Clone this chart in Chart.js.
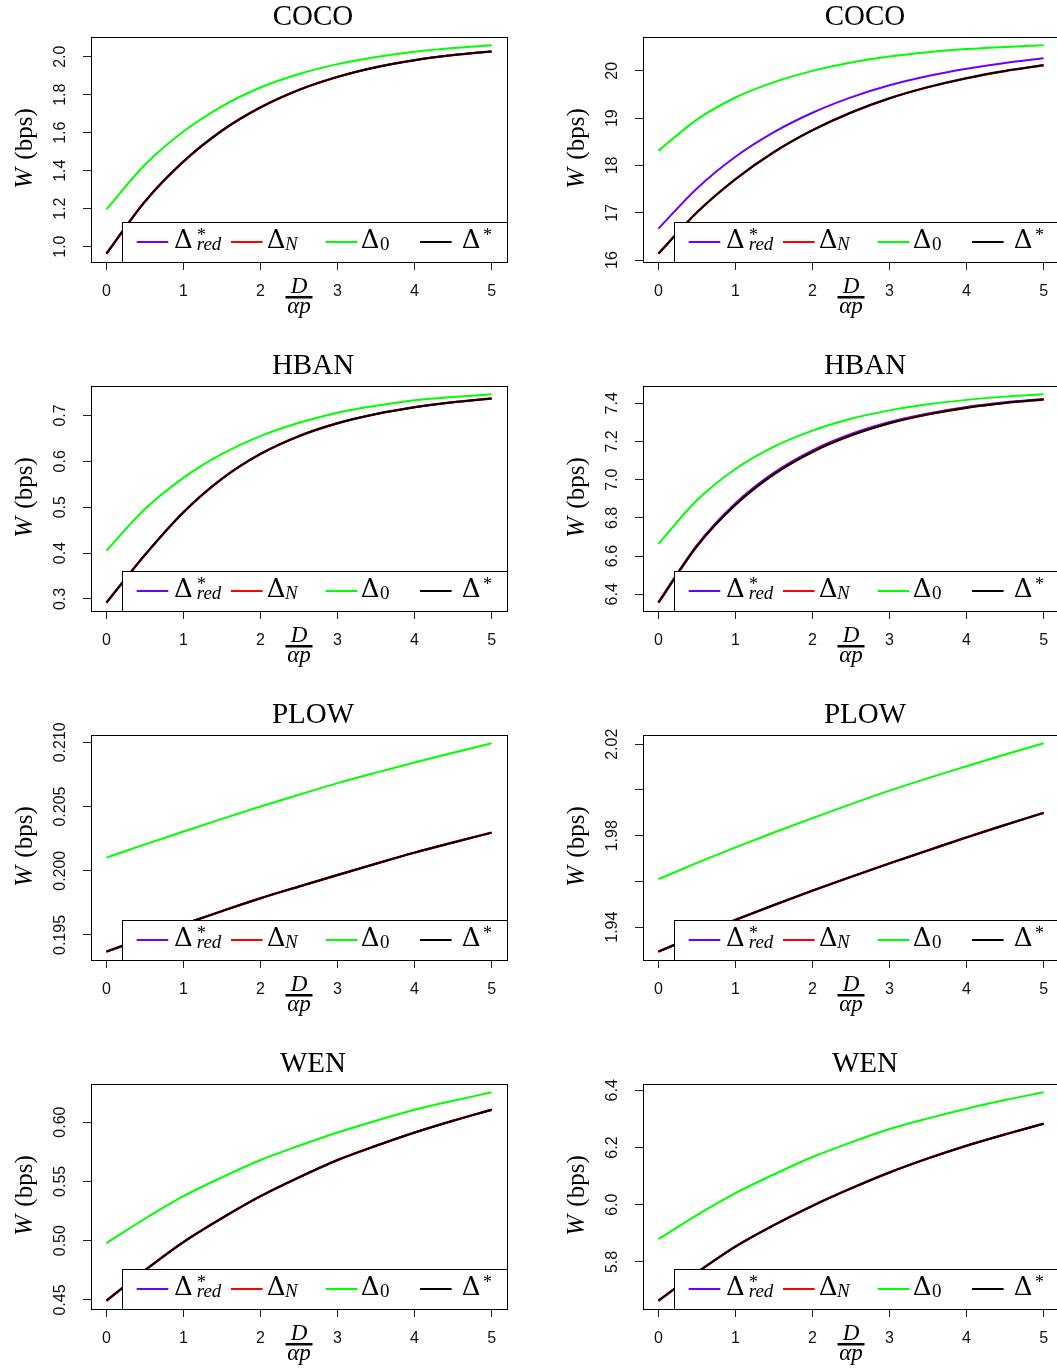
<!DOCTYPE html>
<html><head><meta charset="utf-8">
<script src="https://cdn.jsdelivr.net/npm/chart.js@4.4.1/dist/chart.umd.min.js"></script>
<style>
html,body{margin:0;padding:0;background:#fff;overflow:hidden;width:1057px;height:1368px;position:relative}
canvas{position:absolute}
</style></head><body>
<script>
// ---------- data ----------
const xValues = [0,0.5,1,1.5,2,2.5,3,3.5,4,4.5,5];
const xTicks = [0,1,2,3,4,5];
const xTickLabels = ['0','1','2','3','4','5'];
const titles = ['COCO','COCO','HBAN','HBAN','PLOW','PLOW','WEN','WEN'];

// COCO (left)
const cocoL_star = [0.963,1.2375,1.448,1.6107,1.733,1.8255,1.894,1.9451,1.982,2.0087,2.028];
const cocoL_zero = [1.196,1.431,1.606,1.739,1.838,1.909,1.961,1.998,2.026,2.046,2.060];
const cocoL_yTicks = [1.0,1.2,1.4,1.6,1.8,2.0];
const cocoL_yLabels = ['1.0','1.2','1.4','1.6','1.8','2.0'];
// COCO (right)
const cocoR_red = [16.665,17.515,18.185,18.705,19.115,19.44,19.695,19.891,20.045,20.168,20.265];
const cocoR_star = [16.135,17.008,17.71,18.283,18.745,19.119,19.42,19.656,19.846,19.998,20.12];
const cocoR_zero = [18.31,18.97,19.437,19.7615,20.0,20.178,20.305,20.395,20.46,20.5065,20.54];
const cocoR_yTicks = [16,17,18,19,20];
const cocoR_yLabels = ['16','17','18','19','20'];
// HBAN (left)
const hbanL_star = [0.292,0.396,0.489,0.562,0.616,0.655,0.683,0.703,0.718,0.729,0.737];
const hbanL_zero = [0.4055,0.496,0.564,0.616,0.655,0.684,0.706,0.721,0.733,0.740,0.746];
const hbanL_yTicks = [0.3,0.4,0.5,0.6,0.7];
const hbanL_yLabels = ['0.3','0.4','0.5','0.6','0.7'];
// HBAN (right)
const hbanR_red = [6.358,6.658,6.877,7.037,7.154,7.239,7.302,7.347,7.381,7.405,7.423];
const hbanR_star = [6.356,6.652,6.869,7.029,7.146,7.232,7.296,7.342,7.377,7.402,7.420];
const hbanR_zero = [6.664,6.892,7.056,7.173,7.257,7.319,7.363,7.395,7.418,7.435,7.447];
const hbanR_yTicks = [6.4,6.6,6.8,7.0,7.2,7.4];
const hbanR_yLabels = ['6.4','6.6','6.8','7.0','7.2','7.4'];
// PLOW (left)
const plowL_star = [0.19370,0.19478,0.19583,0.19686,0.19786,0.19877,0.19967,0.20055,0.20141,0.20220,0.20297];
const plowL_zero = [0.20102,0.20205,0.20305,0.20404,0.20500,0.20592,0.20682,0.20764,0.20843,0.20919,0.20992];
const plowL_yTicks = [0.195,0.200,0.205,0.210];
const plowL_yLabels = ['0.195','0.200','0.205','0.210'];
// PLOW (right)
const plowR_star = [1.9293,1.9364,1.9432,1.9497,1.9560,1.9620,1.9679,1.9736,1.9793,1.9847,1.9900];
const plowR_zero = [1.9610,1.9681,1.9749,1.9814,1.9877,1.9938,1.9997,2.0052,2.0104,2.0155,2.0204];
const plowR_yTicks = [1.94,1.96,1.98,2.00,2.02];
const plowR_yLabels = ['1.94','','1.98','','2.02'];
// WEN (left)
const wenL_star = [0.4494,0.4750,0.4988,0.5190,0.5375,0.5534,0.5680,0.5800,0.5912,0.6012,0.6104];
const wenL_zero = [0.4980,0.5185,0.5375,0.5534,0.5680,0.5800,0.5912,0.6012,0.6104,0.6180,0.6251];
const wenL_yTicks = [0.45,0.50,0.55,0.60];
const wenL_yLabels = ['0.45','0.50','0.55','0.60'];
// WEN (right)
const wenR_star = [5.6647,5.763,5.8538,5.929,5.9963,6.057,6.1129,6.162,6.2064,6.246,6.2834];
const wenR_zero = [5.8797,5.964,6.0407,6.106,6.1668,6.218,6.2648,6.302,6.3359,6.366,6.393];
const wenR_yTicks = [5.8,6.0,6.2,6.4];
const wenR_yLabels = ['5.8','6.0','6.2','6.4'];

// ---------- panels (built from the arrays) ----------
const panels = [
  {t:titles[0], col:0,row:0, red:cocoL_star, N:cocoL_star, zero:cocoL_zero, star:cocoL_star, yt:cocoL_yTicks, yl:cocoL_yLabels},
  {t:titles[1], col:1,row:0, red:cocoR_red,  N:cocoR_star, zero:cocoR_zero, star:cocoR_star, yt:cocoR_yTicks, yl:cocoR_yLabels},
  {t:titles[2], col:0,row:1, red:hbanL_star, N:hbanL_star, zero:hbanL_zero, star:hbanL_star, yt:hbanL_yTicks, yl:hbanL_yLabels},
  {t:titles[3], col:1,row:1, red:hbanR_red,  N:hbanR_star, zero:hbanR_zero, star:hbanR_star, yt:hbanR_yTicks, yl:hbanR_yLabels},
  {t:titles[4], col:0,row:2, red:plowL_star, N:plowL_star, zero:plowL_zero, star:plowL_star, yt:plowL_yTicks, yl:plowL_yLabels},
  {t:titles[5], col:1,row:2, red:plowR_star, N:plowR_star, zero:plowR_zero, star:plowR_star, yt:plowR_yTicks, yl:plowR_yLabels},
  {t:titles[6], col:0,row:3, red:wenL_star,  N:wenL_star,  zero:wenL_zero,  star:wenL_star,  yt:wenL_yTicks,  yl:wenL_yLabels},
  {t:titles[7], col:1,row:3, red:wenR_star,  N:wenR_star,  zero:wenR_zero,  star:wenR_star,  yt:wenR_yTicks,  yl:wenR_yLabels}
];

const COL = {red:'#6A00FF', N:'#FF0000', zero:'#00FF00', star:'#000000'};
const SERIF = '"Liberation Serif", "Times New Roman", serif';
const SANS = '"Liberation Sans", Arial, sans-serif';

const decor = {
  id:'decor',
  afterDatasetsDraw(chart, args, opts){
    const p = opts.panel;
    const {ctx, chartArea:a, scales:{x, y}} = chart;
    ctx.save();
    // legend box
    const L = Math.round(x.getPixelForValue(0.2));
    const T = a.bottom - 40;
    ctx.fillStyle = '#fff';
    ctx.fillRect(L, T, a.right - L + 1, 40);
    ctx.strokeStyle = '#000'; ctx.lineWidth = 1;
    ctx.strokeRect(L + 0.5, T + 0.5, a.right - L, 40);
    const segs = [[14.7, COL.red],[109, COL.N],[203.7, COL.zero],[298, COL.star]];
    ctx.lineWidth = 2;
    segs.forEach(([dx,c])=>{
      ctx.strokeStyle = c; ctx.beginPath();
      ctx.moveTo(L+dx, T+20); ctx.lineTo(L+dx+31.6, T+20); ctx.stroke();
    });
    ctx.fillStyle = '#000';
    ctx.textAlign = 'left'; ctx.textBaseline = 'alphabetic';
    ctx.font = '26px "DejaVu Serif", serif';
    [52, 144.7, 238.7, 339.7].forEach(dx => ctx.fillText('\u0394', L+dx, T+25.5));
    ctx.font = 'italic 19px ' + SERIF;
    ctx.fillText('red', L+74.7, T+27.5);
    ctx.fillText('N', L+163, T+27.5);
    ctx.font = '19px ' + SERIF;
    ctx.fillText('0', L+258, T+27.5);
    ctx.font = '18px ' + SERIF;
    ctx.fillText('*', L+75, T+19);
    ctx.fillText('*', L+361, T+19);

    // box
    ctx.strokeStyle = '#000'; ctx.lineWidth = 1;
    ctx.strokeRect(a.left + 0.5, a.top + 0.5, a.right - a.left, a.bottom - a.top);

    // x tick labels
    ctx.font = '16px ' + SANS;
    ctx.fillStyle = '#111';
    ctx.textAlign = 'center'; ctx.textBaseline = 'middle';
    x.ticks.forEach((t,i) => ctx.fillText(xTickLabels[i], x.getPixelForValue(t.value), a.bottom + 30));
    // y tick labels (rotated, parallel to axis)
    y.ticks.forEach((t,i) => {
      const lab = p.yl[i]; if (!lab) return;
      ctx.save();
      ctx.translate(a.left - 30, y.getPixelForValue(t.value));
      ctx.rotate(-Math.PI/2);
      ctx.fillText(lab, 0, 0);
      ctx.restore();
    });
    // title
    ctx.fillStyle = '#000';
    ctx.font = '29px ' + SERIF;
    ctx.textAlign = 'center'; ctx.textBaseline = 'alphabetic';
    ctx.fillText(p.t, a.left + 222, a.top - 12);
    // y label
    ctx.save();
    ctx.translate(a.left - 59, (a.top + a.bottom)/2);
    ctx.rotate(-Math.PI/2);
    ctx.font = 'italic 25px ' + SERIF;
    const wW = ctx.measureText('W').width;
    ctx.font = '25px ' + SERIF;
    const wR = ctx.measureText(' (bps)').width;
    const start = -(wW + wR)/2;
    ctx.textAlign = 'left';
    ctx.font = 'italic 25px ' + SERIF;
    ctx.fillText('W', start, 0);
    ctx.font = '25px ' + SERIF;
    ctx.fillText(' (bps)', start + wW + 2, 0);
    ctx.restore();
    // x label: fraction D / (alpha p)
    const cx = (a.left + a.right)/2;
    ctx.font = 'italic 23px ' + SERIF;
    ctx.textAlign = 'center';
    ctx.fillText('D', cx, a.bottom + 31);
    ctx.fillRect(cx - 13.5, a.bottom + 34, 27, 2.5);
    ctx.fillText('\u03B1p', cx, a.bottom + 51);
    ctx.restore();
  }
};

panels.forEach(p => {
  const c = document.createElement('canvas');
  c.width = 552; c.height = 349;
  c.style.left = (p.col*552) + 'px';
  c.style.top = (p.row*349) + 'px';
  c.style.width = '552px'; c.style.height = '349px';
  document.body.appendChild(c);
  const all = [].concat(p.red, p.N, p.zero, p.star);
  const lo = Math.min(...all), hi = Math.max(...all), pad = (hi - lo)*0.04;
  const xlo = Math.min(...xValues), xhi = Math.max(...xValues), xpad = (xhi - xlo)*0.04;
  const mk = (arr, key, w) => ({
    data: xValues.map((v,i) => ({x:v, y:arr[i]})),
    borderColor: COL[key], borderWidth: w, pointRadius: 0, fill: false,
    cubicInterpolationMode: 'monotone'
  });
  const tickCfg = (vals) => ({
    afterBuildTicks: s => { s.ticks = vals.map(v => ({value:v})); },
    ticks: {display:false},
    grid: {drawOnChartArea:false, drawTicks:true, tickLength:8, color:'#222', lineWidth:1},
    border: {display:false}
  });
  new Chart(c, {
    type:'line',
    data:{datasets:[mk(p.star,'star',2), mk(p.zero,'zero',2), mk(p.N,'N',2.4), mk(p.red,'red',2)]},
    options:{
      responsive:false, animation:false, devicePixelRatio:1,
      layout:{padding:{top:37, right:45, bottom:0, left:0}},
      plugins:{legend:{display:false}, tooltip:{enabled:false}, title:{display:false}, decor:{panel:p}},
      scales:{
        x: Object.assign({type:'linear', min:xlo - xpad, max:xhi + xpad, afterFit: s => { s.height = 87; }}, tickCfg(xTicks)),
        y: Object.assign({type:'linear', min:lo - pad, max:hi + pad, afterFit: s => { s.width = 91; }}, tickCfg(p.yt))
      }
    },
    plugins:[decor]
  });
});
</script>
</body></html>
